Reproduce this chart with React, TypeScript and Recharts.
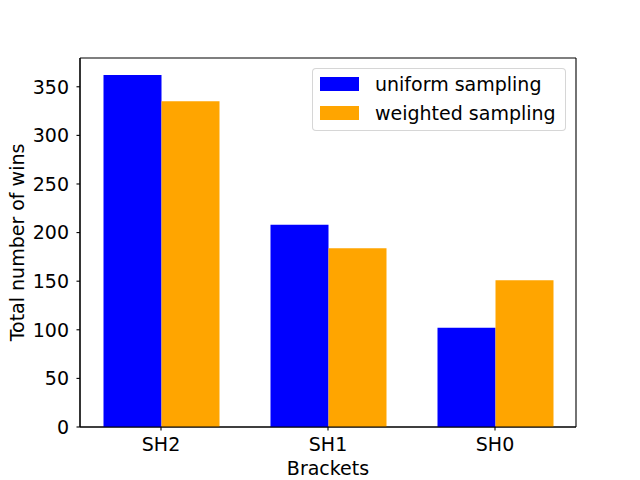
import { BarChart, Bar, XAxis, YAxis, Legend, Label, CartesianGrid } from 'recharts'

const brackets = ['SH2', 'SH1', 'SH0']
const uniformWins = [362, 208, 102]
const weightedWins = [335, 184, 151]
const yTicks = [0, 50, 100, 150, 200, 250, 300, 350]

const data = brackets.map((name, i) => ({
  name,
  uniform: uniformWins[i],
  weighted: weightedWins[i],
}))

const font = 'DejaVu Sans, sans-serif'
const tickStyle = { fontSize: 19, fill: '#000', fontFamily: font }

function MplLegend({ payload }: { payload?: any[] }) {
  return (
    <div
      style={{
        width: 252,
        height: 61,
        border: '1px solid rgba(204,204,204,0.8)',
        borderRadius: 4,
        background: 'rgba(255,255,255,0.8)',
        position: 'relative',
        fontFamily: font,
        fontSize: 19,
        color: '#000',
      }}
    >
      {(payload || []).map((p, i) => (
        <div key={p.value} style={{ position: 'absolute', left: 7, top: 8 + i * 29, height: 14, display: 'flex', alignItems: 'center' }}>
          <span style={{ display: 'inline-block', width: 39, height: 14, background: p.color }} />
          <span style={{ marginLeft: 16, whiteSpace: 'nowrap', lineHeight: '14px' }}>{p.value}</span>
        </div>
      ))}
    </div>
  )
}

export default function App() {
  return (
    <div style={{ position: 'absolute', left: 0, top: 0, width: 640, height: 480, background: '#fff' }}>
      <BarChart
        width={640}
        height={480}
        data={data}
        margin={{ top: 58, right: 64, bottom: 0, left: 0 }}
        barGap={0}
        barSize={58}
        style={{ fontFamily: font }}
      >
        {/* frame: all four spines like matplotlib */}
        <CartesianGrid
          stroke="#000"
          strokeWidth={1.1}
          horizontalCoordinatesGenerator={({ offset }: any) => [offset.top, offset.top + offset.height]}
          verticalCoordinatesGenerator={({ offset }: any) => [offset.left, offset.left + offset.width]}
        />
        <XAxis
          dataKey="name"
          height={53}
          padding={{ left: -2.5, right: -2.5 }}
          tick={tickStyle}
          tickSize={3.5}
          tickMargin={7}
          axisLine={{ stroke: '#000', strokeWidth: 1.1 }}
          tickLine={{ stroke: '#000', strokeWidth: 1.1 }}
        >
          <Label
            content={({ viewBox }: any) => (
              <text x={viewBox.x + viewBox.width / 2} y={viewBox.y + 48} textAnchor="middle" fontSize={19} fill="#000" fontFamily={font}>
                Brackets
              </text>
            )}
          />
        </XAxis>
        <YAxis
          width={80}
          domain={[0, 379.6]}
          ticks={yTicks}
          interval={0}
          tick={tickStyle}
          tickSize={3.5}
          tickMargin={7.5}
          axisLine={{ stroke: '#000', strokeWidth: 1.1 }}
          tickLine={{ stroke: '#000', strokeWidth: 1.1 }}
        >
          <Label
            content={({ viewBox }: any) => {
              const cy = viewBox.y + viewBox.height / 2
              return (
                <text x={24} y={cy} transform={`rotate(-90 24 ${cy})`} textAnchor="middle" fontSize={19} fill="#000" fontFamily={font}>
                  Total number of wins
                </text>
              )
            }}
          />
        </YAxis>
        <Legend
          layout="horizontal"
          verticalAlign="middle"
          align="center"
          content={(props: any) => <MplLegend payload={props.payload} />}
          wrapperStyle={{ position: 'absolute', left: 312, top: 68, width: 'auto' }}
        />
        <Bar dataKey="uniform" name="uniform sampling" fill="#0000ff" isAnimationActive={false} />
        <Bar dataKey="weighted" name="weighted sampling" fill="#ffa500" isAnimationActive={false} />
      </BarChart>
    </div>
  )
}
